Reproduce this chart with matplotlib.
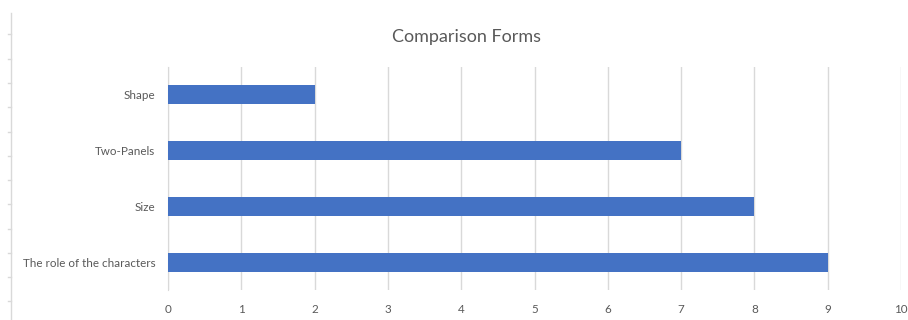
import matplotlib
matplotlib.use("Agg")
import matplotlib.pyplot as plt
from matplotlib.lines import Line2D

categories = ["Shape", "Two-Panels", "Size", "The role of the characters"]
values = [2, 7, 8, 9]
x_ticks = [0, 1, 2, 3, 4, 5, 6, 7, 8, 9, 10]
title = "Comparison Forms"

plt.rcParams['font.family'] = ['Lato', 'DejaVu Sans']
text_color = "#595959"
grid_color = "#d9d9d9"
bar_color = "#4472c4"

W, H = 908, 320
fig = plt.figure(figsize=(W / 100, H / 100), dpi=100)
ax = fig.add_axes([168 / W, (H - 290) / H, (901 - 168) / W, (290 - 67) / H])

ypos = list(range(len(categories)))[::-1]
ax.barh(ypos, values, height=0.34, color=bar_color, zorder=3)
ax.set_xlim(0, 10)
ax.set_ylim(-0.5, len(categories) - 0.5)
ax.set_xticks(x_ticks)
ax.set_xticklabels([str(t) for t in x_ticks])
ax.set_yticks(ypos)
ax.set_yticklabels(categories)
ax.tick_params(axis='both', length=0, colors=text_color, labelsize=8.4)
ax.tick_params(axis='x', pad=10)
ax.tick_params(axis='y', pad=9)
ax.grid(axis='x', color=grid_color, linewidth=1, zorder=0)
for s in ['top', 'right', 'bottom']:
    ax.spines[s].set_visible(False)
ax.spines['left'].set_color(grid_color)

fig.text(467 / W, 1 - 37 / H, title, ha='center', va='center',
         fontsize=13, color=text_color)

# left edge ruler decoration
fig.add_artist(Line2D([11 / W, 11 / W], [0, 1 - 13 / H], transform=fig.transFigure,
                      color=grid_color, linewidth=1))
for ty in [34, 59, 83, 107, 132, 156, 180, 204, 229, 253, 277, 301]:
    fig.add_artist(Line2D([8 / W, 11 / W], [1 - ty / H, 1 - ty / H],
                          transform=fig.transFigure, color=grid_color, linewidth=1))

fig.savefig("out.png", dpi=100)
